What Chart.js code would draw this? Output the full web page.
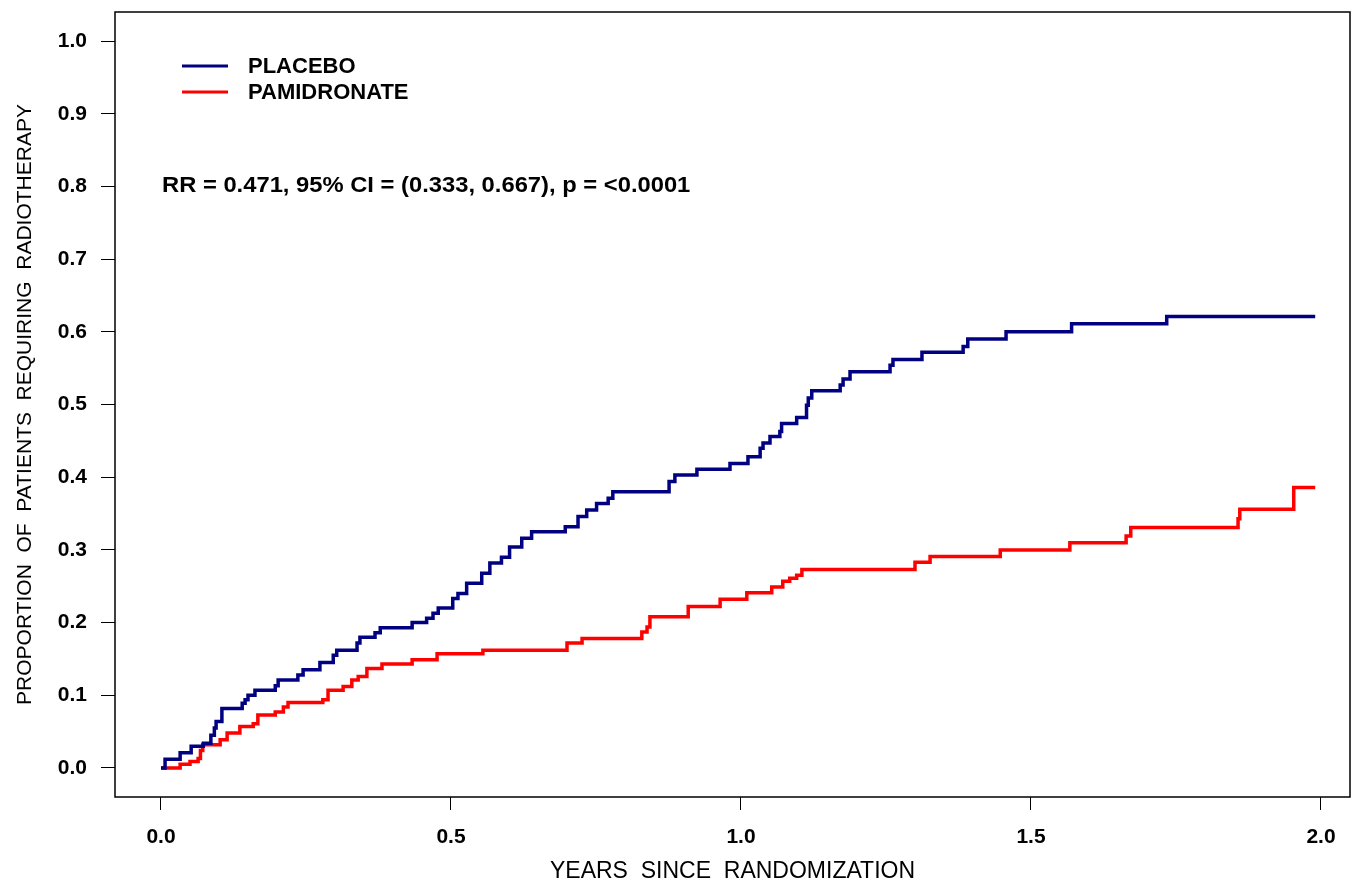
<!DOCTYPE html>
<html>
<head>
    <meta charset="utf-8">
    <title>Radiotherapy</title>
    <script src="https://cdn.jsdelivr.net/npm/chart.js@4.4.1/dist/chart.umd.min.js"></script>
    <style>
        body { margin: 0; background: #fff; }
        #wrap { width: 1354px; height: 885px; }
    </style>
</head>
<body>
<div id="wrap"><canvas id="km"></canvas></div>
<script>
// time (years) where each step lands, and proportion after the step
var placeboT = [0, 0.007, 0.033, 0.052, 0.073, 0.086, 0.092, 0.095, 0.105, 0.14, 0.145, 0.15, 0.162, 0.197, 0.202, 0.236, 0.245, 0.274, 0.297, 0.303, 0.338, 0.343, 0.369, 0.378, 0.433, 0.458, 0.469, 0.478,
    0.503, 0.512, 0.527, 0.553, 0.567, 0.587, 0.601, 0.622, 0.639, 0.697, 0.719, 0.734, 0.751, 0.771, 0.779, 0.876, 0.886, 0.924, 0.981, 1.012,
    1.033, 1.038, 1.05, 1.067, 1.07, 1.096, 1.113, 1.116, 1.122, 1.171, 1.176, 1.188, 1.257, 1.262, 1.312, 1.383, 1.391, 1.457, 1.57, 1.734, 1.99];
var placeboP = [0, 0.012, 0.021, 0.030, 0.034, 0.045, 0.055, 0.064, 0.082, 0.089, 0.094, 0.100, 0.107, 0.113, 0.121, 0.128, 0.135, 0.145, 0.155, 0.162, 0.172, 0.180, 0.186, 0.193, 0.200, 0.206, 0.213, 0.220,
    0.233, 0.240, 0.254, 0.268, 0.282, 0.290, 0.304, 0.316, 0.325, 0.332, 0.346, 0.355, 0.364, 0.371, 0.380, 0.394, 0.403, 0.411, 0.419, 0.428,
    0.440, 0.447, 0.456, 0.463, 0.474, 0.482, 0.499, 0.509, 0.519, 0.527, 0.535, 0.545, 0.554, 0.562, 0.572, 0.580, 0.590, 0.600, 0.611, 0.621, 0.621];

var pamidT = [0, 0.033, 0.05, 0.064, 0.068, 0.072, 0.102, 0.114, 0.136, 0.159, 0.167, 0.197, 0.211, 0.219, 0.279, 0.288, 0.314, 0.329, 0.34, 0.355, 0.381, 0.433, 0.476,
    0.555, 0.7, 0.726, 0.829, 0.838, 0.843, 0.909, 0.964, 1.01, 1.053, 1.072, 1.084, 1.096, 1.105, 1.3, 1.326, 1.447, 1.567, 1.664, 1.672, 1.857, 1.86, 1.953, 1.99];
var pamidP = [0, 0.005, 0.009, 0.013, 0.024, 0.032, 0.039, 0.048, 0.057, 0.061, 0.073, 0.077, 0.084, 0.090, 0.094, 0.107, 0.112, 0.121, 0.126, 0.137, 0.143, 0.149, 0.157,
    0.162, 0.172, 0.178, 0.187, 0.194, 0.208, 0.222, 0.232, 0.241, 0.249, 0.257, 0.261, 0.265, 0.273, 0.283, 0.291, 0.300, 0.310, 0.319, 0.331, 0.343, 0.356, 0.386, 0.386];

var xTicks = [0, 0.5, 1.0, 1.5, 2.0];
var yTicks = [0, 0.1, 0.2, 0.3, 0.4, 0.5, 0.6, 0.7, 0.8, 0.9, 1.0];
var seriesNames = ['PLACEBO', 'PAMIDRONATE'];
var seriesColors = ['#000080', '#ff0000'];
var statText = 'RR = 0.471, 95% CI = (0.333, 0.667), p = <0.0001';

function pairs(t, p) {
    var out = [];
    for (var i = 0; i < t.length; i++) out.push({ x: t[i], y: p[i] });
    return out;
}

var fontFam = '"Liberation Sans", Arial, sans-serif';

// box round the plot, legend and the RR line
var decor = {
    id: 'decor',
    afterDraw: function(chart) {
        var ctx = chart.ctx;
        var a = chart.chartArea;
        ctx.save();
        ctx.strokeStyle = '#000';
        ctx.lineWidth = 1.5;
        ctx.strokeRect(a.left, a.top, a.right - a.left, a.bottom - a.top);

        ctx.font = 'bold 22px ' + fontFam;
        ctx.textBaseline = 'middle';
        ctx.textAlign = 'left';
        for (var i = 0; i < seriesNames.length; i++) {
            var y = 66 + i * 26;
            ctx.strokeStyle = seriesColors[i];
            ctx.lineWidth = 3;
            ctx.beginPath();
            ctx.moveTo(182, y);
            ctx.lineTo(228, y);
            ctx.stroke();
            ctx.fillStyle = '#000';
            ctx.fillText(seriesNames[i], 248, y + 1);
        }
        // the stats line in the original is a bit wider than the font
        ctx.translate(162, 186);
        ctx.scale(1.08, 1);
        ctx.fillText(statText, 0, 0);
        ctx.restore();
    }
};

var chart = new Chart(document.getElementById('km'), {
    type: 'line',
    data: {
        datasets: [{
            label: seriesNames[0],
            data: pairs(placeboT, placeboP),
            borderColor: seriesColors[0],
            borderWidth: 3.5,
            pointRadius: 0,
            stepped: true,
            fill: false
        }, {
            label: seriesNames[1],
            data: pairs(pamidT, pamidP),
            borderColor: seriesColors[1],
            borderWidth: 3.5,
            pointRadius: 0,
            stepped: true,
            fill: false
        }]
    },
    options: {
        responsive: true,
        maintainAspectRatio: false,
        animation: false,
        layout: { padding: { top: 12, right: 4, left: 0, bottom: 0 } },
        plugins: {
            legend: { display: false },
            tooltip: { enabled: false }
        },
        scales: {
            x: {
                type: 'linear',
                min: -0.0793,
                max: 2.05,
                afterBuildTicks: function(scale) {
                    scale.ticks = xTicks.map(function(v) { return { value: v }; });
                },
                afterFit: function(scale) {
                    scale.height = 88;
                    scale.paddingLeft = 0;
                    scale.paddingRight = 0;
                },
                grid: { drawOnChartArea: false, drawTicks: true, tickLength: 13, color: '#000', lineWidth: 1 },
                border: { display: false },
                ticks: {
                    color: '#000',
                    padding: 15,
                    maxRotation: 0,
                    font: { family: fontFam, size: 21, weight: 'bold' },
                    callback: function(v) { return Number(v).toFixed(1); }
                },
                title: {
                    display: true,
                    text: 'YEARS  SINCE  RANDOMIZATION',
                    color: '#000',
                    padding: { top: 0, bottom: 0 },
                    font: { family: fontFam, size: 23 }
                }
            },
            y: {
                min: -0.0399,
                max: 1.04,
                afterBuildTicks: function(scale) {
                    scale.ticks = yTicks.map(function(v) { return { value: v }; });
                },
                afterFit: function(scale) {
                    scale.width = 115;
                    scale.paddingTop = 0;
                    scale.paddingBottom = 0;
                },
                grid: { drawOnChartArea: false, drawTicks: true, tickLength: 14, color: '#000', lineWidth: 1 },
                border: { display: false },
                ticks: {
                    color: '#000',
                    padding: 14,
                    font: { family: fontFam, size: 21, weight: 'bold' },
                    callback: function(v) { return Number(v).toFixed(1); }
                },
                title: {
                    display: true,
                    text: 'PROPORTION  OF  PATIENTS  REQUIRING  RADIOTHERAPY',
                    color: '#000',
                    padding: { top: 13, bottom: 0 },
                    font: { family: fontFam, size: 21 }
                }
            }
        }
    },
    plugins: [decor]
});
</script>
</body>
</html>
